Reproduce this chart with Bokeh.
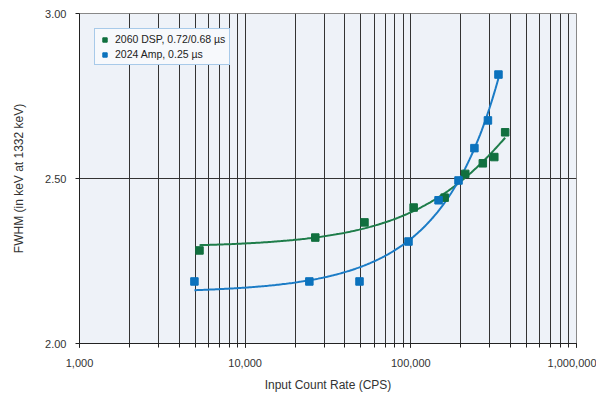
import numpy as np
from bokeh.plotting import figure
from bokeh.models import (FixedTicker, LogTicker, NumeralTickFormatter,
                          Legend, LegendItem, Range1d)
from bokeh.embed import file_html
from bokeh.resources import INLINE

# Data
dsp_x = [5300, 26500, 52500, 104000, 160000, 213000, 272000, 319000, 371000]
dsp_y = [2.282, 2.321, 2.367, 2.412, 2.442, 2.514, 2.546, 2.565, 2.640]
amp_x = [4940, 24400, 49000, 96800, 147000, 194000, 242000, 292000, 338000]
amp_y = [2.188, 2.188, 2.188, 2.309, 2.434, 2.494, 2.592, 2.676, 2.815]
dsp_label = "2060 DSP, 0.72/0.68 µs"
amp_label = "2024 Amp, 0.25 µs"
y_ticks = [2.0, 2.5, 3.0]

GREEN = "#11703f"
GREEN_LINE = "#1e7d4a"
BLUE = "#0b72bd"
BLUE_LINE = "#1b7cc6"
FONT = "Liberation Sans"

p = figure(width=596, height=386, x_axis_type="log", output_backend="svg",
           toolbar_location=None, x_range=Range1d(1000, 1000000), y_range=Range1d(2.0, 3.0),
           min_border_left=79, min_border_right=20, min_border_top=13, min_border_bottom=43)
p.frame_width = 497
p.frame_height = 330
p.border_fill_color = "#ffffff"
p.background_fill_color = "#eef2f8"
p.outline_line_color = "#888888"
p.outline_line_width = 1

# Trendlines (quadratic least-squares fit on linear x, as in spreadsheet trendlines)
def trend(xs, ys):
    c = np.polyfit(np.array(xs, float), np.array(ys, float), 2)
    xx = np.logspace(np.log10(xs[0]), np.log10(xs[-1]), 200)
    return xx, np.polyval(c, xx)

gx, gy = trend(dsp_x, dsp_y)
bx, by = trend(amp_x, amp_y)
p.line(gx, gy, line_color=GREEN_LINE, line_width=2)
p.line(bx, by, line_color=BLUE_LINE, line_width=2)

r1 = p.scatter(dsp_x, dsp_y, marker="square", size=7.5, fill_color=GREEN, line_color=GREEN)
r2 = p.scatter(amp_x, amp_y, marker="square", size=7.5, fill_color=BLUE, line_color=BLUE)

legend = Legend(items=[LegendItem(label=dsp_label, renderers=[r1]),
                       LegendItem(label=amp_label, renderers=[r2])],
                location="top_left", margin=15, padding=4, spacing=3,
                glyph_width=11, glyph_height=11, label_height=11, label_standoff=5,
                label_text_font=FONT, label_text_font_size="10.5px", label_text_color="#222222",
                border_line_color="#5a9bd5", border_line_width=1,
                background_fill_color="#f7f9fc", background_fill_alpha=1.0)
p.add_layout(legend)

# Axes
p.xaxis.ticker = LogTicker(num_minor_ticks=10)
p.xaxis.formatter = NumeralTickFormatter(format="0,0")
p.yaxis.ticker = FixedTicker(ticks=y_ticks)
p.yaxis.formatter = NumeralTickFormatter(format="0.00")
p.xaxis.axis_label = "Input Count Rate (CPS)"
p.yaxis.axis_label = "FWHM (in keV at 1332 keV)"
for ax in (p.xaxis, p.yaxis):
    ax.axis_label_text_font = FONT
    ax.axis_label_text_font_size = "12px"
    ax.axis_label_text_font_style = "normal"
    ax.axis_label_text_color = "#333333"
    ax.major_label_text_font = FONT
    ax.major_label_text_font_size = "11px"
    ax.major_label_text_color = "#333333"
    ax.axis_line_color = "#222222"
    ax.major_tick_line_color = "#222222"
    ax.minor_tick_line_color = "#222222"
    ax.major_tick_in = 0
    ax.major_tick_out = 4
    ax.minor_tick_in = 0
    ax.minor_tick_out = 4
p.yaxis.minor_tick_line_color = None
p.xaxis.major_label_standoff = 11
p.xaxis.axis_label_standoff = 8
p.yaxis.major_label_standoff = 9
p.yaxis.axis_label_standoff = 16

# Grid
p.xgrid.grid_line_color = "#333333"
p.xgrid.grid_line_width = 1
p.xgrid.minor_grid_line_color = "#333333"
p.xgrid.minor_grid_line_width = 1
p.ygrid.grid_line_color = "#333333"
p.ygrid.grid_line_width = 1

open("out.html", "w").write(file_html(p, INLINE))
